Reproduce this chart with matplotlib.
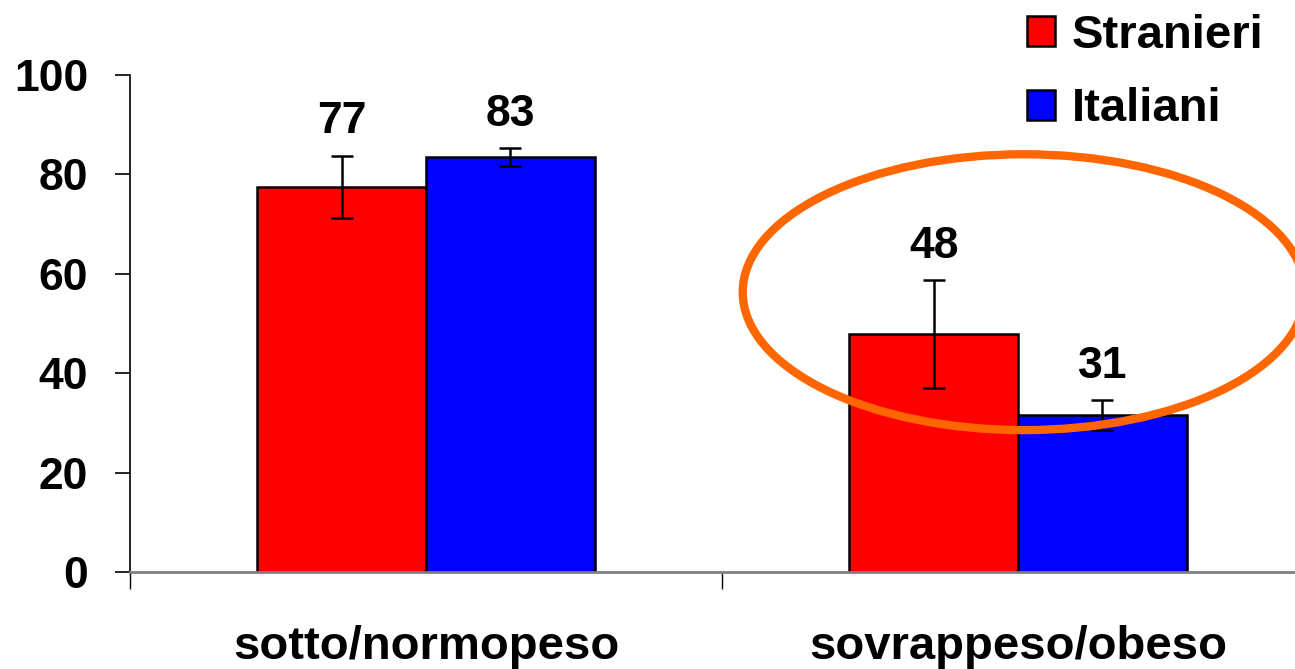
import matplotlib.pyplot as plt
import numpy as np
from matplotlib.patches import Ellipse

categories = ['sotto/normopeso', 'sovrappeso/obeso']
series = ['Stranieri', 'Italiani']
stranieri = [77.5, 47.9]
italiani = [83.5, 31.6]
stranieri_err = [6.3, 10.8]
italiani_err = [1.8, 3.0]
stranieri_lbl = ['77', '48']
italiani_lbl = ['83', '31']
colors = ['#ff0000', '#0000ff']

plt.rcParams['font.family'] = ['Liberation Sans', 'DejaVu Sans']
plt.rcParams['font.weight'] = 'bold'

fig = plt.figure(figsize=(12.95, 6.69), dpi=100)
ax = fig.add_axes([130 / 1295, 97 / 669, 1184 / 1295, 497 / 669])

x = np.arange(len(categories))
w = 0.285
values = [stranieri, italiani]
errs = [stranieri_err, italiani_err]
labels = [stranieri_lbl, italiani_lbl]
for i, (vals, err, lbl, name) in enumerate(zip(values, errs, labels, series)):
    pos = x + (i - 0.5) * w
    ax.bar(pos, vals, w, color=colors[i], edgecolor='black', linewidth=1.8, label=name, zorder=2)
    ax.errorbar(pos, vals, yerr=err, fmt='none', ecolor='black', elinewidth=1.8,
                capsize=8, capthick=1.8, zorder=3)
    for p, v, e, t in zip(pos, vals, err, lbl):
        ax.annotate(t, (p, v + e), xytext=(0, 16), textcoords='offset points',
                    ha='center', va='baseline', fontsize=32, fontweight='bold')

# highlight circle round the second group
ax.add_patch(Ellipse((1.01, 56.3), 0.95, 55.5, fill=False, edgecolor='#ff6600',
                     linewidth=6, zorder=4, clip_on=False))

ax.set_xlim(-0.5, 1.5)
ax.set_ylim(0, 100)
ax.set_yticks(range(0, 101, 20))
ax.set_xticks([-0.5, 0.5, 1.5])
ax.set_xticklabels([])
ax.set_xticks(x, minor=True)
ax.set_xticklabels(categories, minor=True, fontsize=34, fontweight='bold')
ax.tick_params(axis='x', which='minor', length=0, pad=38)
ax.tick_params(axis='x', which='major', length=12, width=1, color='black')
ax.tick_params(axis='y', length=11, width=1.2, pad=19, labelsize=32)

for s in ['top', 'right']:
    ax.spines[s].set_visible(False)
ax.spines['bottom'].set_color('#808080')
ax.spines['bottom'].set_linewidth(2)
ax.spines['left'].set_linewidth(1.2)

leg = fig.legend(loc='upper left', bbox_to_anchor=(1027 / 1295, 1 - 14 / 669), frameon=False,
                 fontsize=34, handlelength=0.6, handleheight=0.6, handletextpad=0.35,
                 labelspacing=0.62, borderpad=0, borderaxespad=0)
for t in leg.get_texts():
    t.set_fontweight('bold')

fig.savefig('out.png', dpi=100)
